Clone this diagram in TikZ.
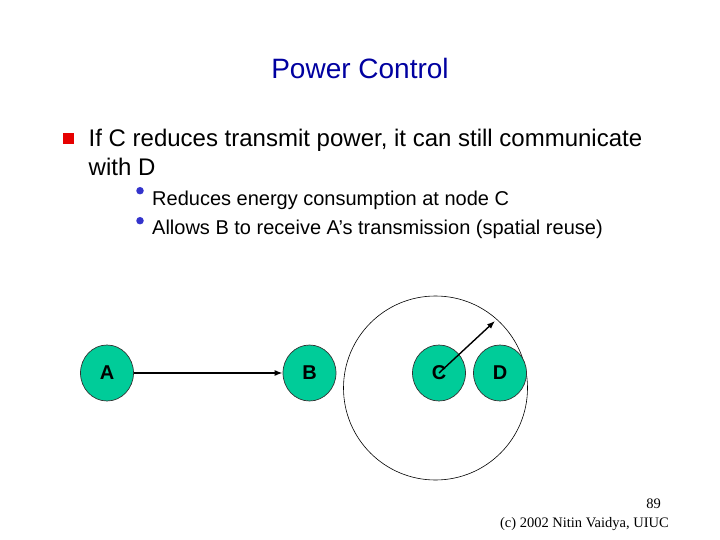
\documentclass[tikz,border=0pt]{standalone}
\usepackage{fontspec}
\setmainfont{Liberation Sans}
\newfontfamily\timesfont{Liberation Serif}
\usetikzlibrary{shapes.geometric,arrows.meta}
\definecolor{titleblue}{RGB}{0,0,160}
\definecolor{dotblue}{RGB}{51,51,204}
\definecolor{nodegreen}{RGB}{0,204,153}
\definecolor{bulletred}{RGB}{230,0,0}
\tikzset{
  station/.style={ellipse, draw=black!80, line width=0.7pt, fill=nodegreen,
    minimum width=53pt, minimum height=56pt, inner sep=0pt,
    font=\fontsize{20}{24}\selectfont\bfseries},
  txt/.style={anchor=base west, inner sep=0pt},
  subdot/.style={circle, fill=dotblue, minimum size=7.5pt, inner sep=0pt},
  link/.style={line width=1.4pt, -{Latex[length=8pt,width=6pt]}},
  rangecircle/.style={circle, draw=black, line width=0.6pt, minimum size=184pt, inner sep=0pt}
}
\begin{document}
\begin{tikzpicture}[x=1pt,y=-1pt]
\useasboundingbox (0,0) rectangle (720,540);
\node[anchor=base, inner sep=0pt, text=titleblue, font=\fontsize{28}{32}\selectfont] (title) at (360,79) {Power Control};
\node[fill=bulletred, minimum size=11pt, inner sep=0pt] (sq) at (68.8,138.8) {};
\node[txt, font=\fontsize{24}{28}\selectfont] (l1) at (88.5,147) {If C reduces transmit power, it can still communicate};
\node[txt, font=\fontsize{24}{28}\selectfont] (l2) at (88.5,175.5) {with D};
\node[subdot] (d1) at (140,190.7) {};
\node[txt, font=\fontsize{20}{24}\selectfont] (s1) at (152,206) {Reduces energy consumption at node C};
\node[subdot] (d2) at (140,220.7) {};
\node[txt, font=\fontsize{20}{24}\selectfont] (s2) at (152,235) {Allows B to receive A’s transmission (spatial reuse)};
\node[rangecircle] (rng) at (435.5,388) {};
\node[station] (A) at (107,373) {A};
\node[station] (B) at (309.5,373) {B};
\node[station] (C) at (439,373) {C};
\node[station] (D) at (500,373) {D};
\coordinate (tip) at (495,321);
\draw[link] (A.east) -- (B.west);
\draw[link] (C.center) -- (tip);
\node[anchor=base east, inner sep=0pt, font=\timesfont\fontsize{14.5}{17}\selectfont] (pg) at (661,508) {89};
\node[anchor=base east, inner sep=0pt, font=\timesfont\fontsize{14.5}{17}\selectfont] (foot) at (669,527) {(c) 2002 Nitin Vaidya, UIUC};
\end{tikzpicture}
\end{document}
